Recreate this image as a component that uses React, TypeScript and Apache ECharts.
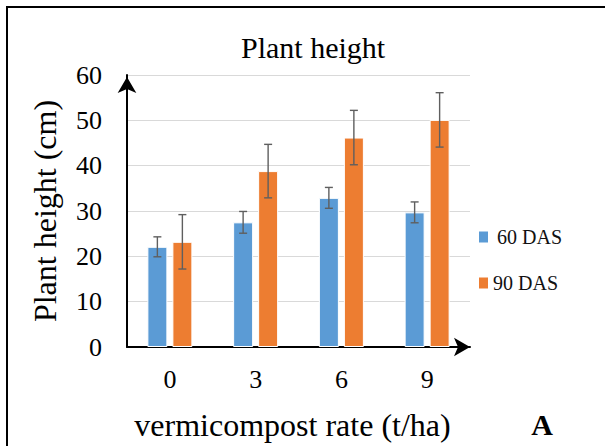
import React, { useEffect, useRef } from "react";
import * as echarts from "echarts";

const categories = ["0", "3", "6", "9"];
const das60 = [22.1, 27.5, 32.9, 29.7];
const err60 = [2.2, 2.4, 2.3, 2.3];
const das90 = [23.2, 38.8, 46.2, 50.1];
const err90 = [6.0, 5.9, 6.0, 6.0];
const yTicks = { min: 0, max: 60, interval: 10 };

const FONT = "'Liberation Serif', 'Times New Roman', serif";
const BAR_W = 20;
const BAR_GAP = 5;

function ts(size: number, extra: any = {}) {
  return {
    fontFamily: FONT,
    fontSize: size,
    fontWeight: "normal",
    fontStyle: "normal",
    color: "#000",
    ...extra,
  };
}

function errorSeries(values: number[], errs: number[], side: number) {
  return {
    type: "custom",
    z: 5,
    silent: true,
    data: values.map((v, i) => [i, v - errs[i], v + errs[i]]),
    renderItem: (params: any, api: any) => {
      const idx = api.value(0);
      const lo = api.coord([idx, api.value(1)]);
      const hi = api.coord([idx, api.value(2)]);
      const x = lo[0] + side * (BAR_W + BAR_GAP) / 2;
      const cap = 4;
      const style = { stroke: "#5f5f5f", lineWidth: 1.4 };
      return {
        type: "group",
        children: [
          { type: "line", shape: { x1: x, y1: lo[1], x2: x, y2: hi[1] }, style },
          { type: "line", shape: { x1: x - cap, y1: hi[1], x2: x + cap, y2: hi[1] }, style },
          { type: "line", shape: { x1: x - cap, y1: lo[1], x2: x + cap, y2: lo[1] }, style },
        ],
      };
    },
  };
}

export default function App() {
  const ref = useRef<HTMLDivElement>(null);
  useEffect(() => {
    if (!ref.current) return;
    const chart = echarts.init(ref.current, null, { renderer: "svg" });
    chart.setOption({
      animation: false,
      backgroundColor: "#ffffff",
      textStyle: ts(12),
      title: {
        text: "Plant height",
        left: 236,
        top: 27,
        textStyle: ts(30),
      },
      legend: {
        orient: "vertical",
        left: 474,
        top: 222,
        itemWidth: 9,
        itemHeight: 11,
        itemGap: 26,
        icon: "rect",
        itemStyle: { borderWidth: 0 },
        textStyle: ts(20, { color: "#111" }),
        data: [
          { name: "60 DAS", textStyle: ts(20, { color: "#111", padding: [0, 0, 0, 4] }) },
          { name: "90 DAS", textStyle: ts(20, { color: "#111" }) },
        ],
      },
      grid: { left: 127, right: 135, top: 75, bottom: 99 },
      xAxis: {
        type: "category",
        data: categories,
        name: "vermicompost rate (t/ha)",
        nameLocation: "middle",
        nameGap: 62,
        nameTextStyle: ts(32, { padding: [0, 12, 0, 0] }),
        axisLine: {
          lineStyle: { color: "#000", width: 2 },
          symbol: ["none", "arrow"],
          symbolSize: [14, 16],
          symbolOffset: [0, 0],
        },
        axisTick: { show: false },
        axisLabel: ts(26, { margin: 19 }),
      },
      yAxis: {
        type: "value",
        min: yTicks.min,
        max: yTicks.max,
        interval: yTicks.interval,
        name: "Plant height (cm)",
        nameLocation: "middle",
        nameGap: 66,
        nameRotate: 90,
        nameTextStyle: ts(32),
        axisLine: {
          show: true,
          lineStyle: { color: "#000", width: 2 },
          symbol: ["none", "arrow"],
          symbolSize: [14, 16],
          symbolOffset: [0, -2],
        },
        axisTick: { show: false },
        axisLabel: ts(26, { margin: 25 }),
        splitLine: { lineStyle: { color: "#d9d9d9", width: 1 } },
      },
      series: [
        {
          name: "60 DAS",
          type: "bar",
          data: das60,
          barWidth: BAR_W,
          barGap: "25%",
          itemStyle: { color: "#5B9BD5", borderColor: "#ffffff", borderWidth: 1 },
        },
        {
          name: "90 DAS",
          type: "bar",
          data: das90,
          barWidth: BAR_W,
          itemStyle: { color: "#ED7D31", borderColor: "#ffffff", borderWidth: 1 },
        },
        errorSeries(das60, err60, -1),
        errorSeries(das90, err90, 1),
      ],
      graphic: [
        { type: "line", shape: { x1: 7, y1: 6, x2: 7, y2: 446 }, style: { stroke: "#000", lineWidth: 2 } },
        { type: "line", shape: { x1: 6, y1: 7, x2: 605, y2: 7 }, style: { stroke: "#000", lineWidth: 2 } },
        {
          type: "text",
          x: 542,
          y: 424,
          style: {
            text: "A",
            font: "bold 30px 'Liberation Serif', serif",
            fill: "#000",
            align: "center",
            verticalAlign: "middle",
          },
        },
      ],
    });
    return () => chart.dispose();
  }, []);
  return (
    <div
      ref={ref}
      style={{ position: "fixed", left: 0, top: 0, width: 605, height: 446 }}
    />
  );
}
